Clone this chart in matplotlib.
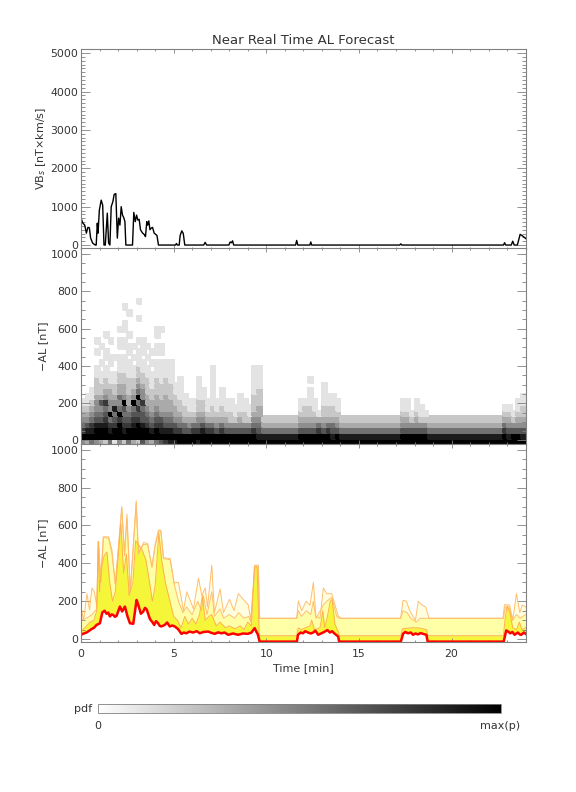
import numpy as np
import matplotlib
matplotlib.use('Agg')
import matplotlib.pyplot as plt
from matplotlib.colors import LinearSegmentedColormap
from matplotlib.ticker import MultipleLocator

# ---- panel 1: VBs solar wind driver [nT x km/s] vs time [min]
t_vbs = [0.0, 0.1, 0.2, 0.29, 0.37, 0.45, 0.52, 0.63, 0.77, 0.82, 0.88, 0.92, 0.99, 1.09,
         1.17, 1.24, 1.31, 1.42, 1.49, 1.56, 1.63, 1.72, 1.79, 1.88, 1.96, 2.03, 2.10, 2.17,
         2.24, 2.31, 2.37, 2.42, 2.78, 2.85, 2.93, 3.0, 3.07, 3.14, 3.21, 3.27, 3.33, 3.42,
         3.48, 3.55, 3.6, 3.66, 3.72, 3.79, 3.86, 3.95, 4.1, 4.18, 5.1, 5.15, 5.2, 5.3, 5.35,
         5.44, 5.52, 5.6, 6.62, 6.7, 6.78, 7.98, 8.05, 8.12, 8.18, 8.24, 11.58, 11.64, 11.7,
         12.35, 12.4, 12.45, 17.2, 17.26, 17.32, 22.8, 22.86, 22.92, 23.22, 23.3, 23.38,
         23.55, 23.7, 23.85, 24.0]
v_vbs = [700, 570, 520, 310, 460, 450, 180, 50, 0, 0, 570, 310, 910, 1170,
         1040, 0, 0, 830, 50, 0, 1000, 1130, 1320, 1340, 180, 700, 520, 1000,
         780, 710, 610, 0, 0, 850, 610, 780, 650, 670, 400, 350, 310, 270,
         220, 610, 520, 630, 400, 440, 460, 310, 250, 0, 0, 40, 0, 0, 250,
         370, 300, 0, 0, 70, 0, 0, 80, 60, 110, 0, 0, 120, 0,
         0, 80, 0, 0, 30, 0, 0, 60, 0, 0, 100, 0,
         0, 280, 230, 170]

# ---- panel 2: forecast pdf of -AL, one string per 0.25 min time bin,
# digits = grey level (0 empty .. 9 = max(p)) from the lowest -AL bin upward
t_bin = 0.25
al_lo, al_step = -20, 30
pdf_cols = [
    # 0 - 1 min
    "49754321", "398643211", "5987543211", "4998654432221100101",
    # 1 - 4.5 min
    "399865463221101001", "29987657432211011001", "5987594433211011001",
    "1997658432211001", "499979545332211101101", "2987656943322111011011001",
    "599765433222111011010001", "399876594322110101", "29997675954322111010001001",
    "6998665744322110111", "499765433222110101", "39865433221110101",
    "599765433222111011011", "698764332221111011001",
    # 4.5 - 9.75 min
    "798654333222111", "898654332221111", "89764332211", "997543221111",
    "996532211", "99643211", "99753211", "897543221111", "9986432211",
    "99753211", "99753221111111", "99643211", "9975322111", "99643211",
    "99642211", "9964211", "996432111", "99642211", "9964211",
    "99754322211111", "98654332221111",
    # 9.75 - 11.75 min
    "98532", "98532", "98532", "98532", "98532", "98532", "98532", "98532",
    # 11.75 - 14 min
    "99643211", "99643221", "996432211101", "99643211", "997531",
    "99643221111", "997532211", "986532211", "99643211",
    # 14 - 17.25 min
    "98532", "98532", "98532", "98532", "98532", "98532", "98532",
    "98532", "98532", "98532", "98532", "98532", "98532",
    # 17.25 - 18.75 min
    "99643211", "99643211", "996421", "99643211", "9964211", "996421",
    # 18.75 - 22.75 min
    "98532", "98532", "98532", "98532", "98532", "98532", "98532", "98532",
    "98532", "98532", "98532", "98532", "98532", "98532", "98532", "98532",
    # 22.75 - 24 min
    "9975321", "9864321", "996421", "99643211", "986432211",
]

# ---- panel 3: forecast -AL quantiles [nT]
t_outer = [0.0, 0.14, 0.32, 0.46, 0.59, 0.72, 0.86, 0.95, 1.08, 1.22, 1.49, 1.67, 1.85, 1.97,
           2.2, 2.35, 2.48, 2.66, 2.79, 2.98, 3.1, 3.37, 3.59, 3.83, 4.0, 4.18, 4.31, 4.45,
           4.81, 5.03, 5.26, 5.53, 5.71, 6.07, 6.34, 6.52, 6.7, 6.83, 7.06, 7.2, 7.51, 7.69,
           8.01, 8.26, 8.49, 8.76, 9.03, 9.16, 9.39, 9.57, 9.64, 11.64, 11.73, 11.91, 12.15,
           12.36, 12.54, 12.68, 12.9, 13.08, 13.26, 13.53, 13.89, 14.07, 17.25, 17.38, 17.56,
           17.74, 18.05, 18.2, 18.4, 18.6, 18.78, 22.77, 22.86, 23.13, 23.3, 23.5, 23.68,
           23.82, 24.0]
al_outer = [172, 100, 240, 155, 270, 250, 170, 516, 300, 540, 540, 470, 290, 430,
            700, 450, 660, 250, 450, 730, 450, 510, 505, 380, 500, 575, 575, 430,
            425, 296, 300, 150, 250, 160, 322, 230, 270, 170, 390, 140, 265, 140,
            210, 150, 240, 210, 180, 100, 390, 390, 110, 110, 202, 150, 200,
            180, 300, 120, 110, 270, 240, 240, 120, 110, 110, 205, 200,
            150, 100, 200, 180, 170, 110, 110, 182, 180, 100, 240, 140,
            180, 170]

t_mid = [0.0, 0.3, 0.6, 0.85, 0.93, 1.05, 1.2, 1.5, 1.67, 1.85, 1.97, 2.2, 2.35, 2.48,
         2.66, 2.79, 2.98, 3.1, 3.37, 3.59, 3.83, 4.0, 4.2, 4.31, 4.45, 4.81, 5.03, 5.26,
         5.5, 5.7, 6.0, 6.3, 6.5, 6.6, 6.8, 7.06, 7.2, 7.5, 7.7, 8.0, 8.3, 8.5, 8.8, 9.05,
         9.16, 9.39, 9.57, 9.64, 11.65, 11.73, 11.9, 12.15, 12.4, 12.54, 12.68, 13.08,
         13.26, 13.53, 13.8, 13.95, 17.25, 17.38, 17.6, 17.8, 18.1, 18.3, 18.75, 22.8,
         22.9, 23.1, 23.3, 23.5, 23.7, 24.0]
al_mid = [100, 110, 130, 160, 516, 300, 540, 530, 450, 290, 420, 690, 440, 640,
          250, 440, 720, 450, 500, 500, 380, 490, 570, 570, 425, 420, 290, 200,
          140, 170, 130, 200, 150, 230, 130, 250, 120, 160, 110, 130, 110, 140, 110, 120,
          90, 390, 380, 110, 110, 150, 120, 150, 130, 200, 110, 180,
          200, 220, 120, 110, 110, 150, 140, 110, 90, 110, 110, 110,
          170, 170, 100, 130, 110, 130]

t_inner = [0.0, 0.3, 0.5, 0.7, 0.85, 0.93, 1.0, 1.1, 1.25, 1.4, 1.55, 1.7, 1.85, 2.0,
           2.15, 2.3, 2.45, 2.6, 2.8, 2.95, 3.1, 3.3, 3.5, 3.7, 3.85, 4.0, 4.2, 4.35,
           4.55, 4.8, 5.0, 5.2, 5.4, 5.6, 5.8, 6.0, 6.2, 6.4, 6.55, 6.7, 6.9, 7.05, 7.3,
           7.5, 7.8, 8.0, 8.3, 8.6, 8.8, 9.0, 9.2, 9.35, 9.5, 9.62, 11.65, 11.72, 11.9,
           12.1, 12.35, 12.45, 12.6, 12.9, 13.05, 13.15, 13.3, 13.45, 13.55, 13.7, 13.88,
           13.95, 17.26, 17.35, 17.8, 18.2, 18.65, 18.72, 22.8, 22.88, 23.0, 23.15, 23.3,
           23.5, 23.66, 23.8, 24.0]
al_inner = [40, 70, 90, 100, 150, 516, 250, 380, 440, 460, 300, 200, 250, 420,
            610, 350, 450, 230, 300, 520, 500, 470, 420, 300, 200, 280, 560, 420,
            300, 200, 120, 100, 60, 120, 80, 110, 80, 130, 230, 100, 120, 130, 70,
            90, 60, 70, 55, 70, 50, 90, 70, 380, 380, 18, 18, 60, 50,
            60, 70, 100, 50, 60, 150, 60, 120, 200, 210, 80, 40,
            18, 18, 55, 60, 60, 50, 18, 18, 100, 175, 140, 60,
            50, 90, 50, 60]

t_median = [0.0, 0.15, 0.3, 0.45, 0.57, 0.7, 0.84, 1.02, 1.15, 1.27, 1.38, 1.47, 1.56, 1.65,
            1.74, 1.83, 1.92, 2.1, 2.22, 2.37, 2.51, 2.64, 2.82, 3.0, 3.09, 3.23, 3.36, 3.45,
            3.54, 3.72, 3.85, 3.95, 4.05, 4.16, 4.25, 4.34, 4.52, 4.65, 4.79, 4.92, 5.06,
            5.24, 5.42, 5.55, 5.69, 5.85, 6.05, 6.25, 6.41, 6.6, 6.86, 7.05, 7.22, 7.4, 7.58,
            7.75, 7.94, 8.2, 8.47, 8.75, 9.0, 9.2, 9.37, 9.55, 9.64, 11.65, 11.71, 11.85,
            11.98, 12.1, 12.25, 12.4, 12.53, 12.65, 12.8, 13.0, 13.16, 13.3, 13.43, 13.55,
            13.7, 13.88, 13.93, 17.26, 17.38, 17.5, 17.65, 17.8, 17.92, 18.05, 18.19, 18.32,
            18.46, 18.64, 18.71, 22.81, 22.95, 23.05, 23.17, 23.28, 23.4, 23.5, 23.58,
            23.68, 23.76, 23.9, 24.0]
al_median = [23, 30, 35, 45, 53, 60, 75, 84, 141, 150, 134, 140, 120, 130,
             128, 118, 123, 172, 146, 172, 120, 84, 81, 207, 181, 134, 146, 165,
             158, 106, 90, 75, 95, 84, 70, 67, 75, 88, 67, 72, 67,
             53, 28, 35, 31, 40, 35, 42, 31, 38, 40, 33, 28, 36, 31,
             35, 23, 30, 23, 30, 28, 35, 58, 23, -13, -13, 23, 35,
             31, 42, 35, 30, 35, 45, 23, 32, 40, 48, 35, 42,
             28, 14, -13, -13, 28, 38, 31, 35, 23, 30, 25, 32,
             28, 23, -13, -13, 46, 40, 31, 38, 23, 30, 35,
             25, 23, 35, 28]

txt = '#333333'
axcol = '#808080'
plt.rcParams['font.family'] = 'DejaVu Sans'

W, H = 576.0, 792.0


def box(l, t, r, b):
    return [l / W, 1 - b / H, (r - l) / W, (b - t) / H]


def style(ax, ylo, yhi, ymaj, ymin, xlabels):
    ax.set_xlim(0, 24)
    ax.set_ylim(ylo, yhi)
    ax.xaxis.set_major_locator(MultipleLocator(5))
    ax.xaxis.set_minor_locator(MultipleLocator(1))
    ax.yaxis.set_major_locator(MultipleLocator(ymaj))
    ax.yaxis.set_minor_locator(MultipleLocator(ymin))
    ax.tick_params(which='both', direction='in', top=True, right=True,
                   color=axcol, width=0.6, labelcolor=txt, labelsize=7.8)
    ax.tick_params(axis='y', which='major', length=6.5, pad=2)
    ax.tick_params(axis='y', which='minor', length=3.2)
    ax.tick_params(axis='x', which='major', length=3.0, pad=5)
    ax.tick_params(axis='x', which='minor', length=1.6)
    if not xlabels:
        ax.tick_params(axis='x', labelbottom=False)
    for s in ax.spines.values():
        s.set_color(axcol)
        s.set_linewidth(0.8)
    ax.yaxis.set_label_coords(-0.075, 0.5)


fig = plt.figure(figsize=(5.76, 7.92), dpi=100)
ax1 = fig.add_axes(box(81, 49.3, 525.7, 248.5))
ax2 = fig.add_axes(box(81, 248.5, 525.7, 444))
ax3 = fig.add_axes(box(81, 444, 525.7, 642))
cax = fig.add_axes(box(97.7, 704.3, 501, 712.7))

# panel 1
ax1.plot(t_vbs, v_vbs, color='black', lw=1.0)
style(ax1, -90, 5100, 1000, 100, False)
ax1.set_ylabel('VB$_s$ [nT\u00d7km/s]', color=txt, fontsize=8)
ax1.set_title('Near Real Time AL Forecast', color=txt, fontsize=9.5, pad=4)

# panel 2
nrow = max(len(c) for c in pdf_cols)
Z = np.zeros((nrow, len(pdf_cols)))
for i, col in enumerate(pdf_cols):
    for k, ch in enumerate(col):
        Z[k, i] = int(ch)
Z = np.ma.masked_equal(Z, 0)
x_edges = np.arange(len(pdf_cols) + 1) * t_bin
y_edges = al_lo + np.arange(nrow + 1) * al_step
grey = LinearSegmentedColormap.from_list('wk', ['white', 'black'])
mesh = ax2.pcolormesh(x_edges, y_edges, Z, cmap=grey, vmin=0, vmax=9,
                      edgecolors='face', linewidth=0.2)
style(ax2, -19, 1030, 200, 50, False)
ax2.set_ylabel('\u2212AL [nT]', color=txt, fontsize=8)

# panel 3
base = -20
ax3.fill_between(t_outer, al_outer, base, color='#ffffe0', lw=0)
ax3.fill_between(t_mid, al_mid, base, color='#ffffa8', lw=0)
ax3.fill_between(t_inner, al_inner, base, color='#f5f53a', lw=0)
ax3.plot(t_outer, al_outer, color='#ffbe6e', lw=0.7)
ax3.plot(t_mid, al_mid, color='#ffbe6e', lw=0.7)
ax3.plot(t_inner, al_inner, color='#ffb050', lw=0.7)
ax3.fill_between(t_median, al_median, base, color='white', lw=0)
ax3.plot(t_median, al_median, color='#ff0000', lw=1.8)
style(ax3, -15, 1030, 200, 50, True)
ax3.set_ylabel('\u2212AL [nT]', color=txt, fontsize=8)
ax3.set_xlabel('Time [min]', color=txt, fontsize=8, labelpad=3)

# colour bar
cb = fig.colorbar(mesh, cax=cax, orientation='horizontal')
cb.set_ticks([])
cb.outline.set_edgecolor(axcol)
cb.outline.set_linewidth(0.6)
fig.text(91.7 / W, 1 - 709.3 / H, 'pdf', ha='right', va='center', color=txt, fontsize=8)
fig.text(97.7 / W, 1 - 725.7 / H, '0', ha='center', va='center', color=txt, fontsize=8)
fig.text(500 / W, 1 - 725.7 / H, 'max(p)', ha='center', va='center', color=txt, fontsize=8)

fig.savefig('out.png', dpi=100)
